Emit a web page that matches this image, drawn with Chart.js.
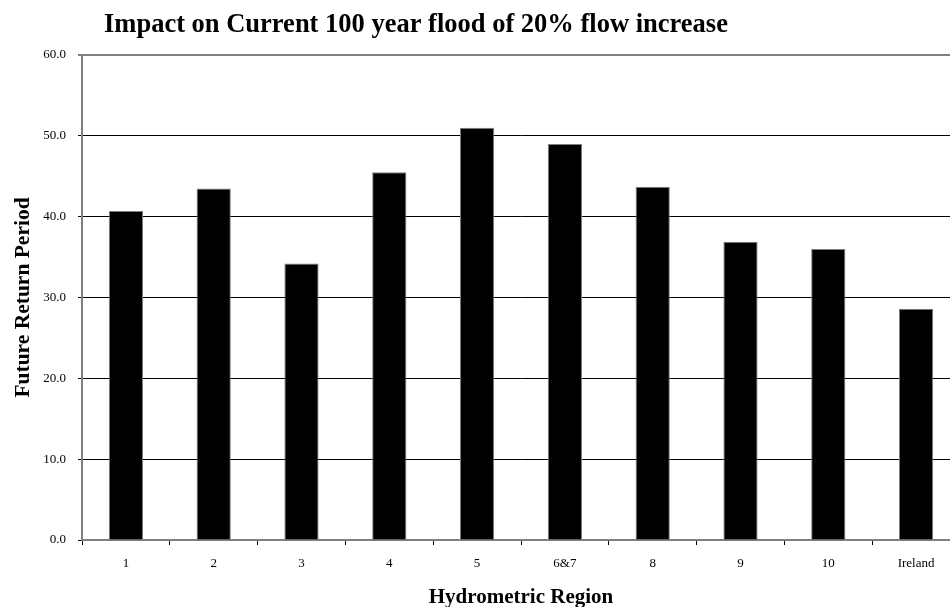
<!DOCTYPE html>
<html>
<head>
<meta charset="utf-8">
<script src="https://cdn.jsdelivr.net/npm/chart.js@4/dist/chart.umd.min.js"></script>
<style>
  html, body { margin: 0; padding: 0; background: #fff; overflow: hidden; }
  #wrap { width: 962px; height: 607px; }
</style>
</head>
<body>
<div id="wrap"><canvas id="grafPovoden" width="962" height="607"></canvas></div>
<script>
// data
const regiony = ["1", "2", "3", "4", "5", "6&7", "8", "9", "10", "Ireland"];
const navratnaDoba = [40.7, 43.5, 34.2, 45.5, 51.0, 49.0, 43.7, 36.9, 36.0, 28.6];
const osaY = { min: 0, max: 60, step: 10 };
const nadpis = "Impact on Current 100 year flood of 20% flow increase";

const serif = "'Liberation Serif', 'Times New Roman', serif";

// title is drawn a bit right of the plot's left edge, like the original
const nadpisPlugin = {
    id: "nadpisPlugin",
    afterDraw(chart) {
        const ctx = chart.ctx;
        ctx.save();
        ctx.font = "bold 26.5px " + serif;
        ctx.fillStyle = "#000";
        ctx.textAlign = "left";
        ctx.textBaseline = "alphabetic";
        ctx.fillText(nadpis, chart.chartArea.left + 22, 32);
        ctx.restore();
    }
};

window.addEventListener("DOMContentLoaded", function() {
    const ctx = document.getElementById("grafPovoden").getContext("2d");
    new Chart(ctx, {
        type: "bar",
        data: {
            labels: regiony,
            datasets: [{
                data: navratnaDoba,
                backgroundColor: "#000",
                borderColor: "#7f7f7f",
                borderWidth: 1,
                barPercentage: 0.39,
                categoryPercentage: 1.0
            }]
        },
        options: {
            responsive: false,
            animation: false,
            layout: { padding: { top: 55, right: 2, left: 0, bottom: 0 } },
            plugins: { legend: { display: false }, tooltip: { enabled: false }, title: { display: false } },
            scales: {
                x: {
                    offset: true,
                    grid: { offset: true, drawOnChartArea: false, drawTicks: true, tickLength: 5, color: "#000", lineWidth: 1 },
                    border: { display: true, color: "#808080", width: 2 },
                    ticks: { color: "#000", font: { family: serif, size: 13 }, padding: 11, maxRotation: 0 },
                    title: { display: true, text: "Hydrometric Region", color: "#000", font: { family: serif, size: 21, weight: "bold" }, padding: { top: 0, bottom: -3 } },
                    afterFit: function(scale) { scale.height = 67; }
                },
                y: {
                    min: osaY.min,
                    max: osaY.max,
                    grid: {
                        color: function(c) { return c.tick && c.tick.value === osaY.max ? "#808080" : "#000"; },
                        lineWidth: function(c) { return c.tick && c.tick.value === osaY.max ? 2 : 1; },
                        tickLength: 4,
                        drawTicks: true
                    },
                    border: { display: true, color: "#808080", width: 2 },
                    ticks: {
                        stepSize: osaY.step,
                        color: "#000",
                        padding: 12,
                        font: { family: serif, size: 13 },
                        callback: function(v) { return Number(v).toFixed(1); }
                    },
                    title: { display: true, text: "Future Return Period", color: "#000", font: { family: serif, size: 21.5, weight: "bold" }, padding: { top: 11, bottom: 0 } },
                    afterFit: function(scale) { scale.width = 82; }
                }
            }
        },
        plugins: [nadpisPlugin]
    });
});
</script>
</body>
</html>
